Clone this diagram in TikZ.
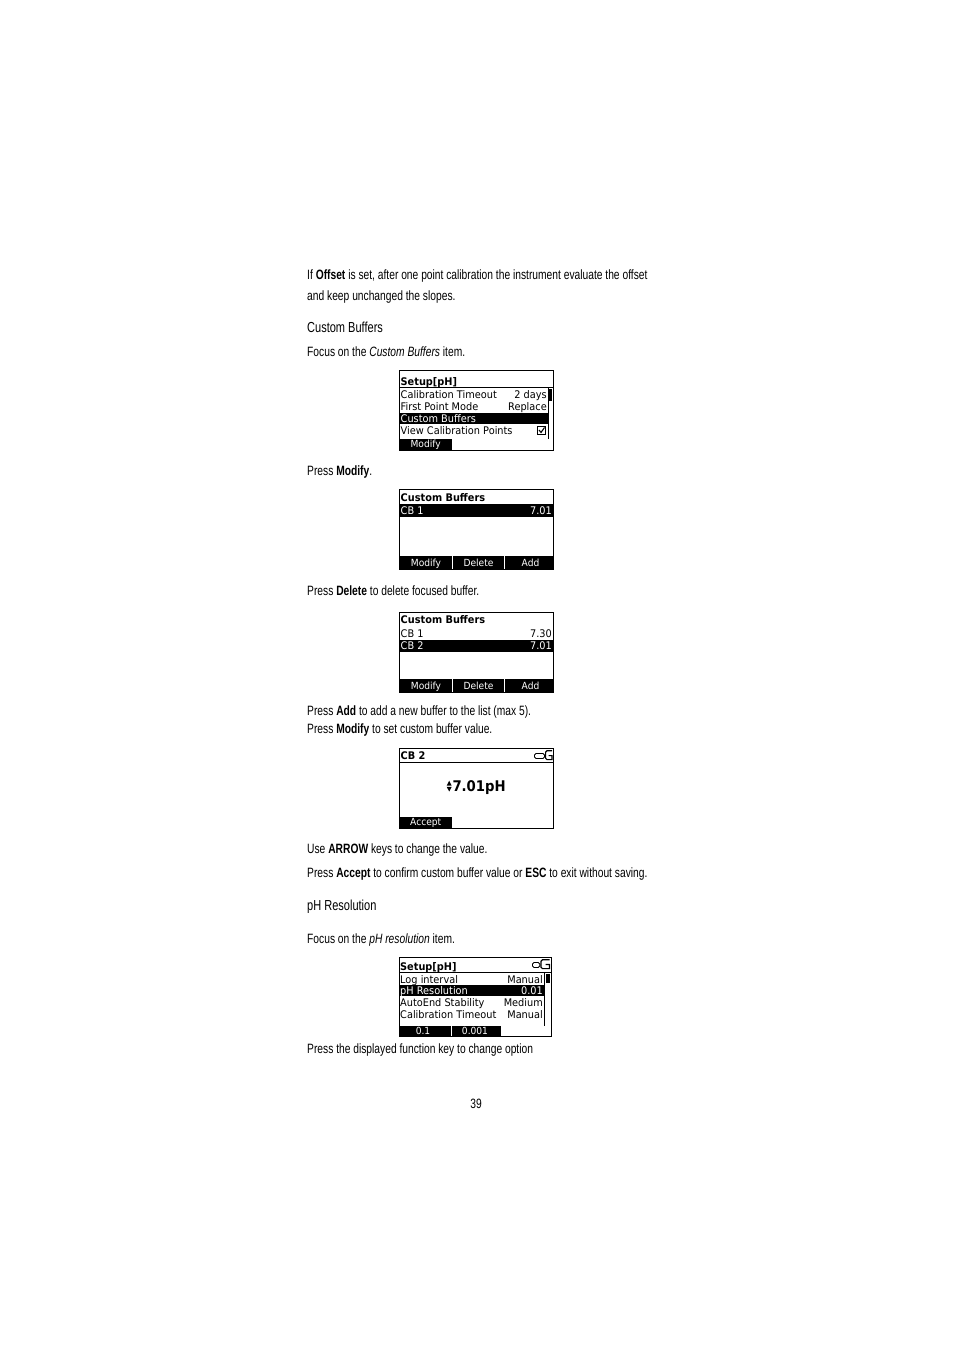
\documentclass[tikz,border=0pt]{standalone}
\usepackage{fontspec}
\setmainfont{Liberation Sans}[FakeStretch=0.76]
\newfontfamily\lcd{DejaVu Sans}[FakeStretch=0.93]
\newfontfamily\bigval{DejaVu Sans}[FakeStretch=0.9]
\tikzset{
  body/.style={anchor=base west, inner sep=0pt, font=\fontsize{13.5}{16}\selectfont},
  head/.style={anchor=base west, inner sep=0pt, font=\fontsize{14.5}{17}\selectfont},
  lcdl/.style={anchor=base west, inner sep=0pt, font=\lcd\fontsize{10.5}{12}\selectfont},
  lcdr/.style={anchor=base east, inner sep=0pt, font=\lcd\fontsize{10.5}{12}\selectfont},
  lcdc/.style={anchor=base, inner sep=0pt, text=white, font=\lcd\fontsize{9.8}{11}\selectfont},
  lcdt/.style={anchor=base west, inner sep=0pt, font=\lcd\bfseries\fontsize{10.5}{12}\selectfont},
  screen/.style={draw=black, line width=1pt},
  sep/.style={draw=black, line width=0.9pt},
  inv/.style={fill=black},
}
\begin{document}
\begin{tikzpicture}[x=1pt,y=-1pt]
\useasboundingbox[fill=white] (0,0) rectangle (954,1351);

% ---------- text ----------
\node[body] (t1) at (307,279) {If \textbf{Offset} is set, after one point calibration the instrument evaluate the offset};
\node[body] (t2) at (307,300) {and keep unchanged the slopes.};
\node[head] (h1) at (307,332) {Custom Buffers};
\node[body] (t3) at (307,356) {Focus on the \textit{Custom Buffers} item.};
\node[body] (t4) at (307,475) {Press \textbf{Modify}.};
\node[body] (t5) at (307,595) {Press \textbf{Delete} to delete focused buffer.};
\node[body] (t6) at (307,715) {Press \textbf{Add} to add a new buffer to the list (max 5).};
\node[body] (t7) at (307,733) {Press \textbf{Modify} to set custom buffer value.};
\node[body] (t8) at (307,853) {Use \textbf{ARROW} keys to change the value.};
\node[body] (t9) at (307,877) {Press \textbf{Accept} to confirm custom buffer value or \textbf{ESC} to exit without saving.};
\node[head] (h2) at (307,910) {pH Resolution};
\node[body] (t10) at (307,943) {Focus on the \textit{pH resolution} item.};
\node[body] (t11) at (307,1053) {Press the displayed function key to change option};
\node[body, anchor=base] (pg) at (476,1108) {39};

% ---------- screen 1 ----------
\draw[screen] (399,370) rectangle (553.5,450);
\node[lcdt] (s1t) at (400.5,385) {Setup[pH]};
\draw[sep] (399,387) -- (553.5,387);
\node[lcdl] (s1a) at (400.5,398) {Calibration Timeout};
\node[lcdr] (s1av) at (547,398) {2 days};
\node[lcdl] (s1b) at (400.5,410) {First Point Mode};
\node[lcdr] (s1bv) at (547,410) {Replace};
\fill[inv] (399.5,412.5) rectangle (547.5,424);
\node[lcdl, text=white] (s1c) at (400.5,422) {Custom Buffers};
\node[lcdl] (s1d) at (400.5,434.5) {View Calibration Points};
\draw[line width=0.9pt] (537.5,426.5) rectangle (545,434);
\draw[line width=1.1pt] (539,430) -- (541,432.5) -- (544.5,427.5);
\draw[line width=0.8pt] (548.2,387) -- (548.2,438.5);
\fill[inv] (548.2,388.5) rectangle (552,400.5);
\fill[inv] (399.5,439) rectangle (452,449.5);
\node[lcdc] (s1m) at (425.7,447.3) {Modify};

% ---------- screen 2 ----------
\draw[screen] (399,489.5) rectangle (553.5,569.5);
\node[lcdt] (s2t) at (400.5,501) {Custom Buffers};
\fill[inv] (399.5,504) rectangle (553,517);
\node[lcdl, text=white] (s2a) at (400.5,514.5) {CB 1};
\node[lcdr, text=white] (s2av) at (552,514.5) {7.01};
\fill[inv] (399.5,556) rectangle (553,569);
\draw[white, line width=0.8pt] (452.3,556) -- (452.3,569) (504.6,556) -- (504.6,569);
\node[lcdc] (s2m) at (426,566) {Modify};
\node[lcdc] (s2d) at (478.5,566) {Delete};
\node[lcdc] (s2ad) at (530.5,566) {Add};

% ---------- screen 3 ----------
\draw[screen] (399,612) rectangle (553.5,692);
\node[lcdt] (s3t) at (400.5,623.5) {Custom Buffers};
\node[lcdl] (s3a) at (400.5,637) {CB 1};
\node[lcdr] (s3av) at (552,637) {7.30};
\fill[inv] (399.5,639.5) rectangle (553,651.5);
\node[lcdl, text=white] (s3b) at (400.5,649.5) {CB 2};
\node[lcdr, text=white] (s3bv) at (552,649.5) {7.01};
\fill[inv] (399.5,679) rectangle (553,691.5);
\draw[white, line width=0.8pt] (452.3,679) -- (452.3,691.5) (504.6,679) -- (504.6,691.5);
\node[lcdc] (s3m) at (426,689) {Modify};
\node[lcdc] (s3d) at (478.5,689) {Delete};
\node[lcdc] (s3ad) at (530.5,689) {Add};

% ---------- screen 4 ----------
\draw[screen] (399,748) rectangle (553.5,828);
\node[lcdt] (s4t) at (400.5,759.5) {CB 2};
\draw[sep] (399,762) -- (553.5,762);
\draw[line width=0.9pt, rounded corners=1.5pt] (534.5,753.5) rectangle (544.5,758.5);
\draw[line width=1.2pt] (552,750.8) -- (547,750.8) -- (545.6,752.2) -- (545.6,758.2) -- (547,759.6) -- (552,759.6) -- (552,755.6) -- (548.6,755.6);
\fill (446.7,785.7) -- (451.7,785.7) -- (449.2,780.7) -- cycle;
\fill (446.7,786.9) -- (451.7,786.9) -- (449.2,791.5) -- cycle;
\node[anchor=base west, inner sep=0pt, font=\bigval\bfseries\fontsize{14.7}{17}\selectfont] (s4v) at (452.3,791.5) {7.01pH};
\fill[inv] (399.5,817) rectangle (452,827.5);
\node[lcdc] (s4a) at (425.7,825.3) {Accept};

% ---------- screen 5 ----------
\draw[screen] (399,957) rectangle (551,1036);
\node[lcdt] (s5t) at (400,970) {Setup[pH]};
\draw[sep] (399,972) -- (551,972);
\draw[line width=0.9pt, rounded corners=1.5pt] (532.5,962.5) rectangle (539.8,967.5);
\draw[line width=1.2pt] (549.5,959.8) -- (542.5,959.8) -- (541,961.2) -- (541,967.2) -- (542.5,968.6) -- (549.5,968.6) -- (549.5,964.5) -- (545.5,964.5);
\node[lcdl] (s5a) at (400,983) {Log interval};
\node[lcdr] (s5av) at (543,983) {Manual};
\fill[inv] (399.5,985) rectangle (544.3,996);
\node[lcdl, text=white] (s5b) at (400,994) {pH Resolution};
\node[lcdr, text=white] (s5bv) at (543,994) {0.01};
\node[lcdl] (s5c) at (400,1006) {AutoEnd Stability};
\node[lcdr] (s5cv) at (543,1006) {Medium};
\node[lcdl] (s5d) at (400,1018) {Calibration Timeout};
\node[lcdr] (s5dv) at (543,1018) {Manual};
\draw[line width=0.8pt] (544.6,972) -- (544.6,1026);
\fill[inv] (546,973.5) rectangle (549.6,983);
\fill[inv] (399.5,1026) rectangle (501,1035.5);
\draw[white, line width=0.8pt] (451,1026) -- (451,1035.5);
\node[lcdc] (s5x) at (423,1034) {0.1};
\node[lcdc] (s5y) at (475,1034) {0.001};
\end{tikzpicture}
\end{document}
